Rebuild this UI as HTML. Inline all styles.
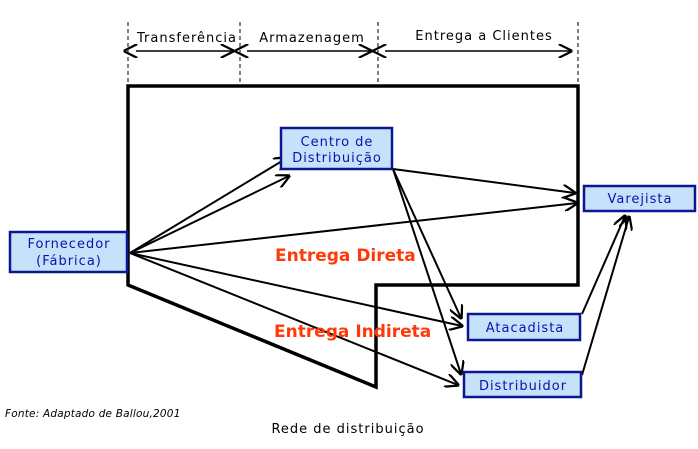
<!DOCTYPE html>
<html><head><meta charset="utf-8"><style>
body{margin:0;background:#fff}
svg{display:block}
text{font-family:"DejaVu Sans","Liberation Sans",sans-serif}
</style></head><body>
<svg width="698" height="449" viewBox="0 0 698 449">
<defs>
<marker id="b" viewBox="0 0 10 10" refX="9" refY="5" markerWidth="14" markerHeight="14" orient="auto" markerUnits="userSpaceOnUse">
<path d="M0,0 L10,5 L0,10" fill="none" stroke="#000" stroke-width="1.6"/></marker>
<marker id="bs" viewBox="0 0 10 10" refX="1" refY="5" markerWidth="14" markerHeight="14" orient="auto-start-reverse" markerUnits="userSpaceOnUse">
<path d="M0,0 L10,5 L0,10" fill="none" stroke="#000" stroke-width="1.6"/></marker>
</defs>
<g stroke="#000" stroke-width="1" stroke-dasharray="4,3">
<line x1="128" y1="22" x2="128" y2="85"/><line x1="240" y1="22" x2="240" y2="85"/>
<line x1="378" y1="22" x2="378" y2="85"/><line x1="578" y1="22" x2="578" y2="85"/>
</g>
<g stroke="#000" stroke-width="1.5">
<line x1="136" y1="51" x2="233" y2="51" marker-end="url(#b)" marker-start="url(#bs)"/>
<line x1="247" y1="51" x2="371" y2="51" marker-end="url(#b)" marker-start="url(#bs)"/>
<line x1="385" y1="51" x2="571" y2="51" marker-end="url(#b)" marker-start="url(#bs)"/>
</g>
<g font-size="13" text-anchor="middle" fill="#000" letter-spacing="1">
<text x="187" y="42">Transferência</text>
<text x="312" y="42">Armazenagem</text>
<text x="484" y="40">Entrega a Clientes</text>
</g>
<polygon points="128,86 578,86 578,285 376,285 376,387 128,285" fill="none" stroke="#000" stroke-width="3.5"/>
<g stroke="#000" stroke-width="2" fill="none">
<line x1="130" y1="253" x2="287" y2="158" marker-end="url(#b)"/>
<line x1="130" y1="253" x2="289" y2="176" marker-end="url(#b)"/>
<line x1="130" y1="253" x2="577" y2="203" marker-end="url(#b)"/>
<line x1="130" y1="253" x2="462" y2="326" marker-end="url(#b)"/>
<line x1="130" y1="253" x2="458" y2="385" marker-end="url(#b)"/>
<line x1="393" y1="169" x2="575" y2="193" marker-end="url(#b)"/>
<line x1="393" y1="169" x2="461" y2="318" marker-end="url(#b)"/>
<line x1="393" y1="169" x2="461" y2="374" marker-end="url(#b)"/>
<line x1="582" y1="314" x2="625" y2="216" marker-end="url(#b)"/>
<line x1="582" y1="375" x2="629" y2="217" marker-end="url(#b)"/>
</g>
<g fill="#c6e2fa" stroke="#0c1690" stroke-width="2.5">
<rect x="10" y="232" width="117" height="40"/>
<rect x="281" y="128" width="111" height="41"/>
<rect x="584" y="186" width="111" height="25"/>
<rect x="468" y="314" width="112" height="26"/>
<rect x="464" y="372" width="117" height="25"/>
</g>
<g font-size="13" text-anchor="middle" fill="#0c10b0" letter-spacing="1">
<text x="69" y="248">Fornecedor</text><text x="69" y="265">(Fábrica)</text>
<text x="337" y="146">Centro de</text><text x="337" y="162">Distribuição</text>
<text x="640" y="203">Varejista</text>
<text x="525" y="332">Atacadista</text>
<text x="523" y="390">Distribuidor</text>
</g>
<g font-size="17" font-weight="bold" fill="#ff3a0a">
<text x="275" y="261">Entrega Direta</text>
<text x="274" y="337">Entrega Indireta</text>
</g>
<text x="5" y="417" font-size="10.5" font-style="italic" fill="#000" letter-spacing="0.2">Fonte: Adaptado de Ballou,2001</text>
<text x="348" y="433" font-size="13" text-anchor="middle" fill="#000" letter-spacing="1">Rede de distribuição</text>
</svg>
</body></html>
